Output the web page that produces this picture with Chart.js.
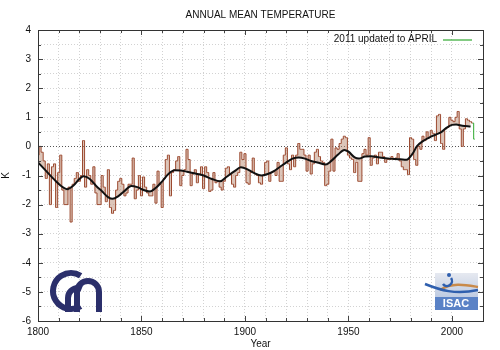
<!DOCTYPE html>
<html>
<head>
<meta charset="utf-8">
<script src="https://cdn.jsdelivr.net/npm/chart.js@4"></script>
<style>
  html, body { margin: 0; padding: 0; background: #fff; }
  #wrap { width: 500px; height: 350px; }
</style>
</head>
<body>
<div id="wrap"><canvas id="chart" width="500" height="350"></canvas></div>
<script>
// annual anomalies (K), one value per year starting at firstYear
const firstYear = 1800;
const anomalies = [
  -0.3, 0.0, -0.2, -0.5, -1.1, -0.6, -2.0, -0.7, -0.6, -2.1,      // 1800s
  -0.9, -0.3, -1.5, -2.0, -2.0, -1.4, -2.6, -1.3, -1.1, -0.9,     // 1810s
  -1.2, -1.0, 0.2, -1.4, -0.8, -1.0, -1.3, -0.7, -1.6, -2.0,      // 1820s
  -2.0, -1.0, -1.4, -1.9, -0.8, -2.1, -2.3, -2.2, -1.5, -1.2,     // 1830s
  -1.1, -1.3, -1.7, -1.6, -1.3, -1.3, -0.4, -1.8, -1.5, -1.0,     // 1840s
  -1.7, -1.05, -1.4, -1.6, -1.7, -1.7, -1.3, -1.95, -0.85, -1.3,  // 1850s
  -2.1, -1.1, -0.45, -0.3, -1.7, -0.9, -0.8, -0.5, -0.35, -1.35,  // 1860s
  -1.0, -0.8, -0.1, -0.45, -1.35, -0.95, -0.8, -1.25, -0.95, -0.7, // 1870s
  -1.45, -0.7, -0.9, -1.55, -1.5, -0.9, -1.25, -1.2, -1.4, -1.5,  // 1880s
  -1.2, -0.75, -0.7, -0.95, -1.3, -1.4, -1.0, -0.9, -0.2, -0.45,  // 1890s
  -0.25, -1.25, -1.3, -0.9, -0.4, -0.95, -1.0, -1.25, -1.3, -1.0, // 1900s
  -0.55, -0.5, -1.2, -0.9, -0.85, -1.0, -0.55, -1.2, -1.2, -0.3,  // 1910s
  -0.05, -0.6, -0.8, -0.3, -0.7, -0.3, 0.1, -0.1, -0.1, -0.3,     // 1920s
  -0.85, -0.3, -0.95, -0.6, -0.2, -0.1, -0.35, -0.5, -0.55, -1.35, // 1930s
  -1.3, -0.85, 0.25, -0.85, -0.05, -0.1, 0.1, 0.25, 0.35, 0.3,    // 1940s
  -0.3, -0.4, -0.45, -0.9, -0.55, -1.2, -1.2, -0.25, -0.1, -0.3,  // 1950s
  0.3, -0.65, -0.4, -0.3, -0.6, -0.2, -0.2, -0.35, -0.55, -0.45,  // 1960s
  -0.45, -0.35, -0.45, -0.4, -0.25, -0.5, -0.7, -0.8, -0.8, -0.97, // 1970s
  0.3, 0.25, -0.45, -0.65, 0.0, -0.1, 0.35, 0.2, 0.5, 0.3,        // 1980s
  0.55, 0.45, 0.2, 1.05, 1.1, 0.1, -0.1, 0.6, 0.65, 1.0,          // 1990s
  0.9, 0.85, 1.0, 1.2, 0.6, 0.0, 0.6, 0.95, 0.9, 0.85,            // 2000s
  0.8                                                              // 2010
];

// 2011 (January to April only)
const partialYears = [2010, 2011];
const partialValues = [0.8, 0.25];

// smoothed curve, read at these years
const smoothYears = [1800, 1804, 1808, 1811, 1814, 1817, 1820, 1822, 1825, 1828, 1831, 1834, 1836, 1839,
  1842, 1845, 1848, 1851, 1854, 1857, 1860, 1863, 1866, 1869, 1872, 1876, 1880, 1884, 1888, 1891, 1895,
  1898, 1901, 1904, 1908, 1911, 1914, 1917, 1920, 1923, 1926, 1929, 1932, 1935, 1939, 1942, 1945, 1948,
  1950, 1953, 1955, 1958, 1961, 1965, 1970, 1975, 1978, 1981, 1983, 1986, 1989, 1992, 1995, 1997, 2000,
  2002, 2005, 2009];
const smoothValues = [-0.55, -0.85, -1.15, -1.35, -1.47, -1.35, -1.12, -1.03, -1.12, -1.35, -1.55, -1.75, -1.8, -1.7,
  -1.52, -1.36, -1.4, -1.5, -1.55, -1.42, -1.2, -0.95, -0.82, -0.83, -0.87, -0.93, -1.0, -1.12, -1.2, -1.05, -0.85,
  -0.72, -0.78, -0.9, -1.0, -0.95, -0.85, -0.7, -0.55, -0.42, -0.38, -0.42, -0.5, -0.55, -0.62, -0.48, -0.28, -0.12,
  -0.18, -0.38, -0.42, -0.35, -0.34, -0.38, -0.42, -0.44, -0.46, -0.25, 0.0, 0.18, 0.3, 0.4, 0.5, 0.62, 0.74,
  0.75, 0.71, 0.68];

const xLabelYears = [1800, 1850, 1900, 1950, 2000];
const keyLabel = "2011 updated to APRIL";

const FONT = "'Liberation Sans', Arial, sans-serif";

const yearlyPoints = anomalies.map((v, i) => ({ x: firstYear + i, y: v }));
const partialPoints = partialYears.map((x, i) => ({ x: x, y: partialValues[i] }));
const smoothPoints = smoothYears.map((x, i) => ({ x: x, y: smoothValues[i] }));

// frame, inward tick marks, key and logos (gnuplot look)
const decorations = {
  id: "decorations",
  afterDatasetsDraw(chart) {
    const { ctx, chartArea: a, scales } = chart;
    ctx.save();
    ctx.strokeStyle = "#444";
    ctx.lineWidth = 1;
    ctx.beginPath();
    scales.x.ticks.forEach(t => {
      const px = Math.round(scales.x.getPixelForValue(t.value)) + 0.5;
      const len = xLabelYears.includes(t.value) ? 5 : 3;
      ctx.moveTo(px, a.bottom); ctx.lineTo(px, a.bottom - len);
      ctx.moveTo(px, a.top); ctx.lineTo(px, a.top + len);
    });
    scales.y.ticks.forEach(t => {
      const py = Math.round(scales.y.getPixelForValue(t.value)) + 0.5;
      const len = Number.isInteger(t.value) ? 5 : 3;
      ctx.moveTo(a.left, py); ctx.lineTo(a.left + len, py);
      ctx.moveTo(a.right, py); ctx.lineTo(a.right - len, py);
    });
    ctx.stroke();
    ctx.strokeStyle = "#333";
    ctx.strokeRect(Math.round(a.left) + 0.5, Math.round(a.top) + 0.5,
      Math.round(a.right - a.left), Math.round(a.bottom - a.top));

    // key
    ctx.font = "10px " + FONT;
    ctx.fillStyle = "#111";
    ctx.textAlign = "right";
    ctx.textBaseline = "middle";
    ctx.fillText(keyLabel, a.right - 46, a.top + 9);
    ctx.strokeStyle = "#2fa82f";
    ctx.lineWidth = 1.2;
    ctx.beginPath();
    ctx.moveTo(a.right - 40, a.top + 10);
    ctx.lineTo(a.right - 11, a.top + 10);
    ctx.stroke();

    // CNR logo
    ctx.strokeStyle = "#2b2f6b";
    ctx.lineCap = "butt";
    ctx.lineWidth = 6;
    ctx.beginPath();
    ctx.arc(71, 291, 18, 0.32 * Math.PI, 1.68 * Math.PI, false);
    ctx.stroke();
    ctx.beginPath();
    ctx.moveTo(68, 312);
    ctx.lineTo(68, 298);
    ctx.arc(78, 298, 10, Math.PI, 1.62 * Math.PI, false);
    ctx.stroke();
    ctx.beginPath();
    ctx.moveTo(77, 312);
    ctx.lineTo(77, 292);
    ctx.arc(88, 292, 11, Math.PI, 2 * Math.PI, false);
    ctx.lineTo(99, 312);
    ctx.stroke();

    // ISAC logo
    const g = ctx.createLinearGradient(0, 273, 0, 310);
    g.addColorStop(0, "#e6e9f0");
    g.addColorStop(1, "#a9bbdb");
    ctx.fillStyle = g;
    ctx.fillRect(435, 273, 43, 37);
    ctx.fillStyle = "#5a82c6";
    ctx.fillRect(435, 297, 43, 13);
    ctx.lineWidth = 2.5;
    ctx.strokeStyle = "#c98a4a";
    ctx.beginPath();
    ctx.moveTo(440, 290); ctx.bezierCurveTo(452, 282, 466, 285, 478, 287);
    ctx.stroke();
    ctx.strokeStyle = "#2f5fae";
    ctx.beginPath();
    ctx.moveTo(425, 284); ctx.bezierCurveTo(440, 290, 455, 295, 478, 290);
    ctx.stroke();
    ctx.beginPath();
    ctx.arc(447, 281, 5, -0.2 * Math.PI, 0.8 * Math.PI, false);
    ctx.stroke();
    ctx.fillStyle = "#2f5fae";
    ctx.beginPath(); ctx.arc(449, 275, 2, 0, 2 * Math.PI); ctx.fill();
    ctx.fillStyle = "#fff";
    ctx.font = "bold 11px " + FONT;
    ctx.textAlign = "center";
    ctx.fillText("ISAC", 456, 304);
    ctx.restore();
  }
};

const ctx = document.getElementById("chart").getContext("2d");
new Chart(ctx, {
  type: "line",
  data: {
    datasets: [
      {
        label: "annual",
        data: yearlyPoints,
        stepped: "middle",
        borderColor: "#9c4a30",
        borderWidth: 1,
        backgroundColor: "rgba(185,140,115,0.5)",
        fill: { target: 2 },
        pointRadius: 0,
        order: 2
      },
      {
        label: keyLabel,
        data: partialPoints,
        stepped: "middle",
        borderColor: "#2fa82f",
        borderWidth: 1,
        pointRadius: 0,
        fill: false,
        order: 1
      },
      {
        label: "smoothed",
        data: smoothPoints,
        borderColor: "#111",
        borderWidth: 2,
        cubicInterpolationMode: "monotone",
        pointRadius: 0,
        fill: false,
        order: 0
      }
    ]
  },
  options: {
    responsive: false,
    animation: false,
    layout: { padding: { left: 0, right: 17, top: 0, bottom: 0 } },
    plugins: {
      legend: { display: false },
      tooltip: { enabled: false },
      title: {
        display: true,
        text: "ANNUAL MEAN TEMPERATURE",
        fullSize: false,
        color: "#111",
        font: { family: FONT, size: 10, weight: "normal" },
        padding: { top: 9, bottom: 9 }
      }
    },
    scales: {
      x: {
        type: "linear",
        min: 1800,
        max: 2015,
        afterFit: s => { s.height = 29; },
        ticks: {
          stepSize: 10,
          autoSkip: false,
          maxRotation: 0,
          padding: 5,
          color: "#111",
          font: { family: FONT, size: 10 },
          callback: v => xLabelYears.includes(v) ? String(v) : ""
        },
        grid: {
          color: "#d2d2d2",
          lineWidth: 1,
          drawTicks: false
        },
        border: { display: false, dash: [1, 2] },
        title: {
          display: true,
          text: "Year",
          color: "#111",
          font: { family: FONT, size: 10 },
          padding: { top: 0, bottom: 0 }
        }
      },
      y: {
        min: -6,
        max: 4,
        afterFit: s => { s.width = 38; },
        ticks: {
          stepSize: 0.5,
          autoSkip: false,
          padding: 7,
          color: "#111",
          font: { family: FONT, size: 10 },
          callback: v => Number.isInteger(v) ? String(v) : ""
        },
        grid: {
          color: c => c.tick && c.tick.value === 0 ? "#555" : "#d2d2d2",
          lineWidth: 1,
          drawTicks: false
        },
        border: { display: false, dash: [1, 2] },
        title: {
          display: true,
          text: "K",
          color: "#111",
          font: { family: FONT, size: 10 },
          padding: { top: 0, bottom: 6 }
        }
      }
    }
  },
  plugins: [decorations]
});
</script>
</body>
</html>
